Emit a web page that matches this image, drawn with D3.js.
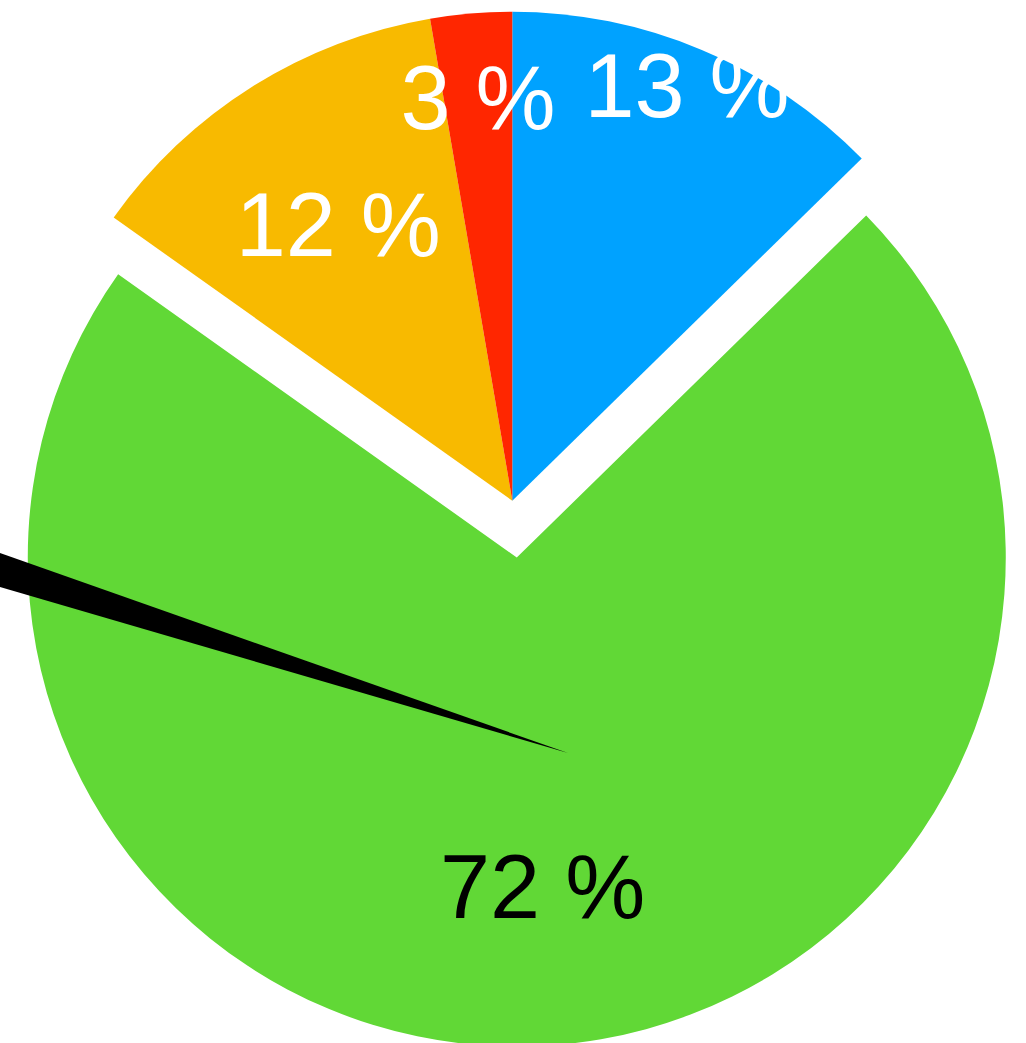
<!DOCTYPE html>
<html>
<head>
<meta charset="utf-8">
<script src="https://cdn.jsdelivr.net/npm/d3@7"></script>
<style>
  html, body { margin: 0; padding: 0; background: #ffffff; }
  svg { display: block; }
</style>
</head>
<body>
<div id="chart"></div>
<script>
// ---- data ----
const sliceNames   = ["Blue", "Green", "Yellow", "Red"];
const sliceValues  = [12.67, 72.17, 12.48, 2.69];
const sliceLabels  = ["13 %", "72 %", "12 %", "3 %"];
const sliceColors  = ["#00A2FF", "#61D836", "#F8BA00", "#FF2600"];
const labelColors  = ["#ffffff", "#000000", "#ffffff", "#ffffff"];
const explodeDist  = [0, 57, 0, 0];
const labelRadius  = [0.922, 0.673, 0.669, 0.830];

// thin black wedge (degrees, clockwise from 12 o'clock)
const needleAngles = [286.3, 289.4];
const needleOffset = { dist: 258.4, angleDeg: 167.55 };
const needleColor  = "#000000";

// ---- layout ----
const W = 1026, H = 1043;
const cx = 512.3, cy = 500.7, R = 489;
const fontSize = 90;

const svg = d3.select("#chart").append("svg")
  .attr("width", W).attr("height", H)
  .style("background", "#ffffff");

const g = svg.append("g").attr("transform", `translate(${cx},${cy})`);

const pie = d3.pie().sort(null).value(d => d.value).startAngle(0).endAngle(2 * Math.PI);
const data = sliceValues.map((v, i) => ({
  value: v, name: sliceNames[i], label: sliceLabels[i],
  color: sliceColors[i], labelColor: labelColors[i],
  explode: explodeDist[i], lr: labelRadius[i]
}));
const arcs = pie(data);
const arc = d3.arc().innerRadius(0).outerRadius(R);

function offsetFor(d) {
  const mid = (d.startAngle + d.endAngle) / 2;
  return [Math.sin(mid) * d.data.explode, -Math.cos(mid) * d.data.explode];
}

const slices = g.selectAll("g.slice").data(arcs).join("g")
  .attr("class", "slice")
  .attr("transform", d => { const o = offsetFor(d); return `translate(${o[0]},${o[1]})`; });

slices.append("path")
  .attr("d", arc)
  .attr("fill", d => d.data.color);

// black needle wedge
const toRad = Math.PI / 180;
const nOff = [Math.sin(needleOffset.angleDeg * toRad) * needleOffset.dist,
              -Math.cos(needleOffset.angleDeg * toRad) * needleOffset.dist];
const needleArc = d3.arc().innerRadius(0).outerRadius(R * 1.5);
g.append("path")
  .attr("transform", `translate(${nOff[0]},${nOff[1]})`)
  .attr("d", needleArc({ startAngle: needleAngles[0] * toRad, endAngle: needleAngles[1] * toRad }))
  .attr("fill", needleColor);

// labels
slices.append("text")
  .attr("transform", d => {
    const mid = (d.startAngle + d.endAngle) / 2;
    const r = R * d.data.lr;
    return `translate(${Math.sin(mid) * r},${-Math.cos(mid) * r})`;
  })
  .attr("text-anchor", "middle")
  .attr("dy", "0.358em")
  .attr("font-family", "'Liberation Sans', Arial, Helvetica, sans-serif")
  .attr("font-size", fontSize)
  .attr("fill", d => d.data.labelColor)
  .text(d => d.data.label);

// bring labels of non-exploded slices above other slices
slices.filter(d => d.data.explode === 0).raise();
</script>
</body>
</html>
